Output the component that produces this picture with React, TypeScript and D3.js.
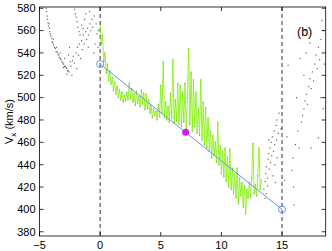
import React, { useEffect, useRef } from "react";
import * as d3 from "d3";

// green time series, sampled every 0.1 from t = 0
const greenStep = 0.1;
const greenValues = [
  566, 548, 556, 532, 540, 522, 530, 515, 524, 512,
  518, 506, 514, 503, 510, 500, 507, 498, 505, 496,
  502, 497, 505, 498, 513, 499, 508, 496, 504, 493,
  506, 495, 501, 492, 507, 494, 504, 489, 503, 490,
  498, 486, 493, 482, 490, 484, 488, 480, 494, 483,
  511, 486, 532, 482, 496, 480, 492, 478, 504, 481,
  534, 477, 498, 479, 513, 476, 511, 474, 505, 478,
  513, 472, 500, 544, 476, 523, 470, 516, 474, 505,
  468, 490, 466, 516, 462, 496, 458, 491, 455, 482,
  452, 470, 446, 466, 448, 460, 442, 478, 440, 457,
  432, 452, 429, 455, 425, 447, 420, 454, 418, 437,
  414, 432, 410, 437, 405, 428, 412, 424, 402, 421,
  396, 418, 410, 424, 411, 428, 459, 414, 422, 412,
  430, 455, 418, 426,
];

// scattered points before t = 0
const leftT = [
  -4.45, -4.41, -4.37, -4.34, -4.29, -4.26, -4.19, -4.16, -4.11, -4.06,
  -3.98, -3.96, -3.89, -3.84, -3.76, -3.69, -3.63, -3.54, -3.49, -3.41,
  -3.36, -3.27, -3.23, -3.14, -3.09, -3.01, -2.94, -2.89, -2.81, -2.76,
  -2.69, -2.63, -2.56, -2.74, -2.92, -3.3, -3.02, -2.41, -2.28, -2.22,
  -2.12, -1.98, -1.93, -1.87, -1.78, -1.72, -1.61, -1.53, -1.47, -1.38,
  -1.32, -1.18, -1.12, -1.03, -0.97, -0.83, -0.77, -0.68, -0.62, -0.48,
  -0.42, -0.33, -0.27, -0.18, -2.11, -2.04, -1.96, -1.91, -1.84, -1.74,
  -1.66, -1.52, -1.28, -1.19, -0.88, -2.52, -2.61, -2.33, -0.98, -0.52,
  -4.2, -3.85, -3.6, -2.45, -1.4, -0.15,
];
const leftV = [
  580, 577, 573, 570, 567, 564, 562, 559, 557, 555,
  553, 550, 549, 547, 545, 544, 541, 541, 539, 538,
  536, 535, 534, 532, 531, 530, 528, 528, 527, 526,
  524, 524, 523, 521, 535, 540, 527, 528, 533, 537,
  531, 540, 526, 545, 538, 548, 535, 551, 543, 556,
  548, 559, 552, 562, 556, 566, 560, 570, 563, 573,
  548, 566, 557, 545, 579, 575, 572, 568, 563, 559,
  556, 565, 570, 575, 577, 545, 538, 520, 545, 540,
  566, 552, 545, 532, 562, 560,
];

// scattered points after the green interval
const rightT = [
  13.5, 13.6, 13.65, 13.7, 13.8, 13.85, 13.9, 13.95, 14.0, 14.05,
  14.1, 14.15, 14.2, 14.3, 14.35, 14.4, 14.5, 14.55, 14.6, 14.7,
  14.75, 13.6, 13.7, 13.8, 14.25, 14.4, 14.6, 15.2, 15.4, 15.5,
  15.8, 15.9, 15.95, 16.0, 16.1, 16.3, 16.4, 16.6, 16.7, 16.8,
  16.9, 17.0, 17.1, 17.2, 17.3, 17.4, 17.5, 17.6, 17.7, 17.8,
  17.9, 18.0, 18.1, 18.2, 17.3, 18.3, 18.0, 17.4, 17.0, 16.8,
  16.5, 18.4, 16.2, 18.4, 16.9, 18.5, 18.2, 14.9, 14.45, 13.9,
];
const rightV = [
  418, 425, 432, 438, 428, 445, 450, 436, 455, 442,
  460, 448, 465, 452, 470, 458, 475, 462, 480, 468,
  486, 410, 414, 421, 430, 440, 446, 426, 465, 529,
  435, 446, 420, 404, 458, 470, 455, 478, 484, 490,
  497, 503, 494, 510, 517, 508, 523, 515, 530, 538,
  526, 545, 534, 552, 549, 569, 464, 455, 540, 520,
  535, 490, 500, 560, 560, 530, 500, 472, 424, 462,
];

// linear fit endpoints and midpoint marker
const fitT = [0, 15];
const fitV = [530, 400];
const midT = [7.05];
const midV = [469];

const boundaries = [0, 15];
const xTicks = [-5, 0, 5, 10, 15];
const yTicks = [380, 400, 420, 440, 460, 480, 500, 520, 540, 560, 580];

export default function App() {
  const ref = useRef<SVGSVGElement | null>(null);

  useEffect(() => {
    const width = 332;
    const height = 251;
    const left = 39.5;
    const right = 325.7;
    const top = 7;
    const bottom = 236;
    const font = "'Liberation Sans', Arial, Helvetica, sans-serif";

    const svg = d3.select(ref.current);
    svg.selectAll("*").remove();
    svg.attr("width", width).attr("height", height);

    const x = d3.scaleLinear().domain([-5, 18.6]).range([left, right]);
    const y = d3.scaleLinear().domain([376.2, 581.1]).range([bottom, top]);

    const plot = svg.append("g");

    // dashed boundaries
    boundaries.forEach((b) => {
      plot
        .append("line")
        .attr("x1", x(b))
        .attr("x2", x(b))
        .attr("y1", top)
        .attr("y2", bottom)
        .attr("stroke", "#000")
        .attr("stroke-width", 0.8)
        .attr("stroke-dasharray", "4,3");
    });

    const dot = (t: number[], v: number[], color: string, op: number) => {
      plot
        .append("g")
        .selectAll("rect")
        .data(t.map((d, i) => [d, v[i]]))
        .enter()
        .append("rect")
        .attr("x", (d) => x(d[0]) - 0.6)
        .attr("y", (d) => y(d[1]) - 0.6)
        .attr("width", 1.2)
        .attr("height", 1.2)
        .attr("fill", color)
        .attr("opacity", op);
    };

    dot(leftT, leftV, "#333", 0.75);
    dot(rightT, rightV, "#333", 0.75);

    // green series
    const greenT = greenValues.map((_, i) => i * greenStep);
    const line = d3
      .line<number>()
      .x((_, i) => x(greenT[i]))
      .y((d) => y(d));
    plot
      .append("path")
      .attr("d", line(greenValues))
      .attr("fill", "none")
      .attr("stroke", "#7cf000")
      .attr("stroke-width", 0.8);
    dot(greenT, greenValues, "#555", 0.45);

    // fit line
    plot
      .append("line")
      .attr("x1", x(fitT[0]))
      .attr("y1", y(fitV[0]))
      .attr("x2", x(fitT[1]))
      .attr("y2", y(fitV[1]))
      .attr("stroke", "#6f8ff0")
      .attr("stroke-width", 1);
    fitT.forEach((t, i) => {
      plot
        .append("circle")
        .attr("cx", x(t))
        .attr("cy", y(fitV[i]))
        .attr("r", 3.5)
        .attr("fill", "none")
        .attr("stroke", "#6f8ff0")
        .attr("stroke-width", 1);
    });
    midT.forEach((t, i) => {
      plot
        .append("circle")
        .attr("cx", x(t))
        .attr("cy", y(midV[i]))
        .attr("r", 3.5)
        .attr("fill", "#cc22dd");
    });

    // frame
    svg
      .append("rect")
      .attr("x", left)
      .attr("y", top)
      .attr("width", right - left)
      .attr("height", bottom - top)
      .attr("fill", "none")
      .attr("stroke", "#000")
      .attr("stroke-width", 0.8);

    const tl = 4;
    xTicks.forEach((t) => {
      [
        [bottom, bottom - tl],
        [top, top + tl],
      ].forEach(([a, b]) => {
        svg
          .append("line")
          .attr("x1", x(t))
          .attr("x2", x(t))
          .attr("y1", a)
          .attr("y2", b)
          .attr("stroke", "#000")
          .attr("stroke-width", 0.8);
      });
      svg
        .append("text")
        .attr("x", x(t))
        .attr("y", 249)
        .attr("text-anchor", "middle")
        .style("font-family", font)
        .style("font-size", "11px")
        .text(t < 0 ? "\u2212" + Math.abs(t) : String(t));
    });

    yTicks.forEach((t) => {
      [
        [left, left + tl],
        [right, right - tl],
      ].forEach(([a, b]) => {
        svg
          .append("line")
          .attr("x1", a)
          .attr("x2", b)
          .attr("y1", y(t))
          .attr("y2", y(t))
          .attr("stroke", "#000")
          .attr("stroke-width", 0.8);
      });
      svg
        .append("text")
        .attr("x", 35.5)
        .attr("y", y(t))
        .attr("dy", "0.35em")
        .attr("text-anchor", "end")
        .style("font-family", font)
        .style("font-size", "11px")
        .text(String(t));
    });

    // y label
    const yl = svg
      .append("text")
      .attr("transform", `translate(13,${(top + bottom) / 2}) rotate(-90)`)
      .attr("text-anchor", "middle")
      .style("font-family", font)
      .style("font-size", "11px");
    yl.append("tspan").text("V");
    yl.append("tspan").attr("dy", 3).style("font-size", "8px").text("x");
    yl.append("tspan").attr("dy", -3).text(" (km/s)");

    svg
      .append("text")
      .attr("x", 297)
      .attr("y", 36)
      .style("font-family", font)
      .style("font-size", "12.5px")
      .text("(b)");
  }, []);

  return (
    <svg
      ref={ref}
      style={{ position: "absolute", left: 0, top: 0, background: "#fff" }}
    />
  );
}
